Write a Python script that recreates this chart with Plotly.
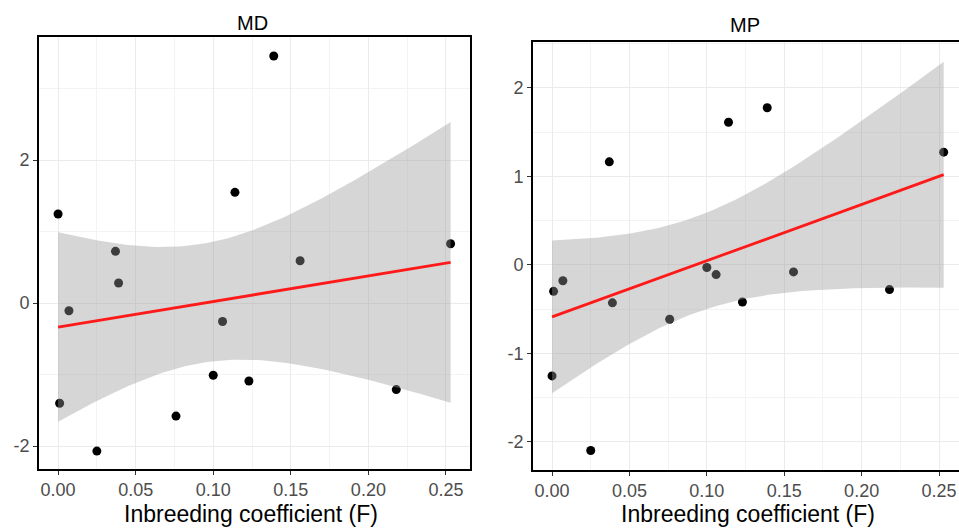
import numpy as np
import plotly.graph_objects as go

# ---- data ----
inbreeding_f = [0.000, 0.001, 0.007, 0.025, 0.037, 0.039, 0.076, 0.100,
                0.106, 0.114, 0.123, 0.139, 0.156, 0.218, 0.253]
md_values = [1.245, -1.40, -0.107, -2.07, 0.723, 0.28, -1.58, -1.01,
             -0.257, 1.548, -1.09, 3.455, 0.592, -1.21, 0.83]
mp_values = [-1.256, -0.30, -0.18, -2.10, 1.165, -0.43, -0.615, -0.03,
             -0.11, 1.613, -0.42, 1.776, -0.08, -0.28, 1.274]
panel_titles = ["MD", "MP"]
x_tick_vals = [0.00, 0.05, 0.10, 0.15, 0.20, 0.25]
x_tick_text = ["0.00", "0.05", "0.10", "0.15", "0.20", "0.25"]
md_y_ticks = [-2, 0, 2]
mp_y_ticks = [-2, -1, 0, 1, 2]
x_title = "Inbreeding coefficient (F)"
T_CRIT = 2.1604  # t(0.975, df=13)

FONT = "Liberation Sans, Arial, Helvetica, sans-serif"


def lm_fit(x, y, n_grid=80):
    x = np.asarray(x, float)
    y = np.asarray(y, float)
    n = len(x)
    xb = x.mean()
    sxx = ((x - xb) ** 2).sum()
    b1 = ((x - xb) * (y - y.mean())).sum() / sxx
    b0 = y.mean() - b1 * xb
    res = y - (b0 + b1 * x)
    s = np.sqrt((res ** 2).sum() / (n - 2))
    xg = np.linspace(x.min(), x.max(), n_grid)
    yg = b0 + b1 * xg
    se = s * np.sqrt(1.0 / n + (xg - xb) ** 2 / sxx)
    return xg, yg, yg - T_CRIT * se, yg + T_CRIT * se


fig = go.Figure()

for i, yv in enumerate([md_values, mp_values]):
    xa = "x" if i == 0 else "x2"
    ya = "y" if i == 0 else "y2"
    xg, yg, lo, hi = lm_fit(inbreeding_f, yv)
    fig.add_trace(go.Scatter(x=inbreeding_f, y=yv, mode="markers",
                             marker=dict(color="black", size=9),
                             xaxis=xa, yaxis=ya, showlegend=False))
    fig.add_trace(go.Scatter(x=xg, y=lo, mode="lines", line=dict(width=0),
                             xaxis=xa, yaxis=ya, showlegend=False,
                             hoverinfo="skip"))
    fig.add_trace(go.Scatter(x=xg, y=hi, mode="lines", line=dict(width=0),
                             fill="tonexty", fillcolor="rgba(153,153,153,0.4)",
                             xaxis=xa, yaxis=ya, showlegend=False,
                             hoverinfo="skip"))
    fig.add_trace(go.Scatter(x=xg, y=yg, mode="lines",
                             line=dict(color="#FF1A1A", width=2.8),
                             xaxis=xa, yaxis=ya, showlegend=False))

W, H = 959, 528
axis_common = dict(
    showgrid=True, gridcolor="#EBEBEB", gridwidth=1,
    zeroline=False, showline=True, linecolor="black", linewidth=1.6,
    ticks="outside", ticklen=4, tickwidth=1.2, tickcolor="#333333",
    tickfont=dict(family=FONT, size=18, color="#4D4D4D"),
    tickmode="array",
)

fig.update_layout(
    width=W, height=H,
    margin=dict(l=0, r=0, t=0, b=0),
    paper_bgcolor="white", plot_bgcolor="white",
    showlegend=False,
    xaxis=dict(axis_common, domain=[39 / W, 470 / W], range=[-0.0123, 0.2655],
               tickvals=x_tick_vals, ticktext=x_tick_text, mirror=True,
               minor=dict(dtick=0.025, tick0=0, showgrid=True,
                          gridcolor="#F3F3F3", ticks="")),
    yaxis=dict(axis_common, domain=[1 - 469 / H, 1 - 37 / H], range=[-2.32, 3.72],
               tickvals=md_y_ticks, ticktext=[str(v) for v in md_y_ticks],
               mirror=True,
               minor=dict(dtick=1, tick0=1, showgrid=True,
                          gridcolor="#F3F3F3", ticks="")),
    xaxis2=dict(axis_common, domain=[533 / W, 1.0], range=[-0.0123, 0.2629],
                tickvals=x_tick_vals, ticktext=x_tick_text, mirror=True,
                anchor="y2",
                minor=dict(dtick=0.025, tick0=0, showgrid=True,
                           gridcolor="#F3F3F3", ticks="")),
    yaxis2=dict(axis_common, domain=[1 - 470 / H, 1 - 42 / H], range=[-2.32, 2.52],
                tickvals=mp_y_ticks, ticktext=[str(v) for v in mp_y_ticks],
                mirror=False, anchor="x2",
                minor=dict(dtick=0.5, tick0=0.5, showgrid=True,
                           gridcolor="#F3F3F3", ticks="")),
)

annos = [
    dict(text=panel_titles[0], x=252 / W, y=1 - 23 / H),
    dict(text=panel_titles[1], x=745 / W, y=1 - 25 / H),
]
for a in annos:
    fig.add_annotation(xref="paper", yref="paper", x=a["x"], y=a["y"],
                       text=a["text"], showarrow=False, xanchor="center",
                       yanchor="middle",
                       font=dict(family=FONT, size=20, color="black"))
for xc in [251 / W, 748 / W]:
    fig.add_annotation(xref="paper", yref="paper", x=xc, y=1 - 514 / H,
                       text=x_title, showarrow=False, xanchor="center",
                       yanchor="middle",
                       font=dict(family=FONT, size=23, color="black"))

fig.write_html("out.html",
               config={"displayModeBar": False},
               post_script="document.body.style.margin='0';"
                           "document.body.style.overflow='hidden';")
